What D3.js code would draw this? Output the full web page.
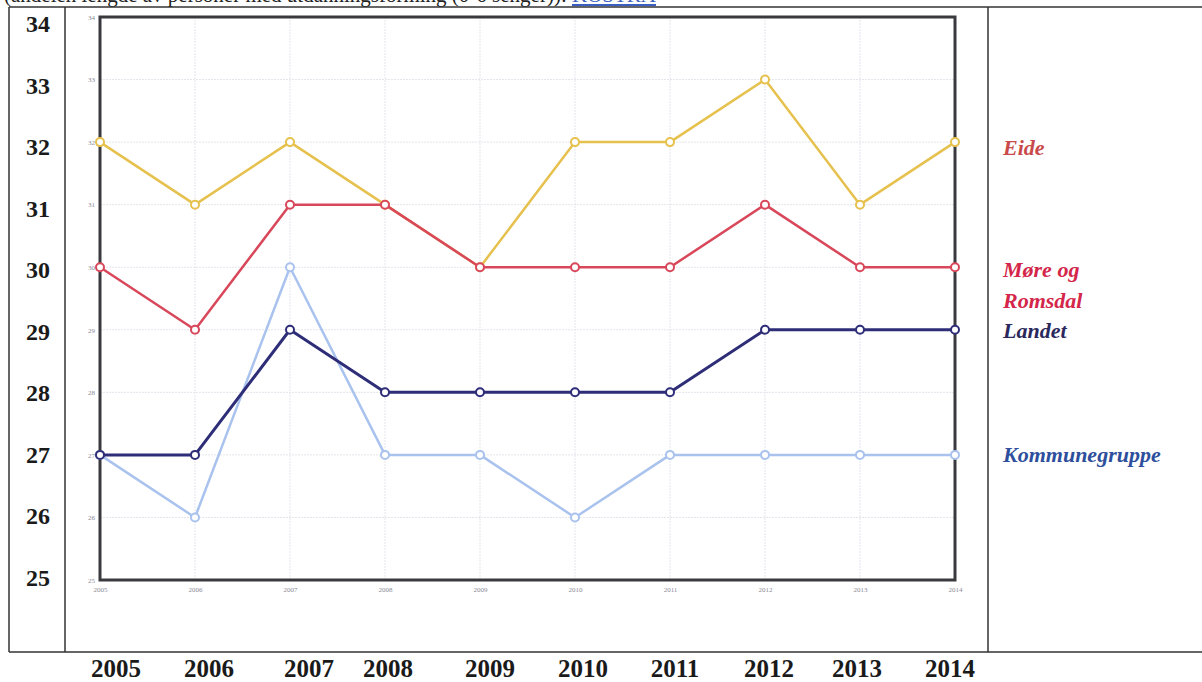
<!DOCTYPE html>
<html>
<head>
<meta charset="utf-8">
<script src="https://cdn.jsdelivr.net/npm/d3@7"></script>
<style>
  html, body { margin: 0; padding: 0; background: #fff; }
  svg { display: block; }
</style>
</head>
<body>
<svg id="chart" width="1202" height="682"></svg>
<script>
// data
var years = [2005, 2006, 2007, 2008, 2009, 2010, 2011, 2012, 2013, 2014];
var yTicks = [25, 26, 27, 28, 29, 30, 31, 32, 33, 34];
var eide = [32, 31, 32, 31, 30, 32, 32, 33, 31, 32];
var moreRomsdal = [30, 29, 31, 31, 30, 30, 30, 31, 30, 30];
var landet = [27, 27, 29, 28, 28, 28, 28, 29, 29, 29];
var kommunegruppe = [27, 26, 30, 27, 27, 26, 27, 27, 27, 27];
var seriesNames = ['Eide', 'Møre og Romsdal', 'Landet', 'Kommunegruppe'];

// the typed year row under the table is not aligned with the plot
var yearNudge = [16, 14, 19, 3, 10, 8, 5, 4, -3, -5];

var series = [
    {key: 'Kommunegruppe', values: kommunegruppe, color: '#a9c2ee', width: 2.5},
    {key: 'Landet', values: landet, color: '#2e2d78', width: 3},
    {key: 'Eide', values: eide, color: '#e6c14e', width: 2.5},
    {key: 'Møre og Romsdal', values: moreRomsdal, color: '#d8475a', width: 2.5}
];

var svg = d3.select('#chart');

var x = d3.scaleLinear().domain([2005, 2014]).range([100, 955]);
var y = d3.scaleLinear().domain([25, 34]).range([580, 17]);
// the typed value column on the left sits on its own spacing
var yTyped = d3.scaleLinear().domain([25, 34]).range([578, 24]);

//------------------------------------------------------------
// scanned header line, cut off at the top

var head = svg.append('text')
    .attr('x', 4).attr('y', 2)
    .style('font-family', '"Liberation Serif", "Times New Roman", serif')
    .style('font-size', '21px')
    .style('fill', '#222');
head.append('tspan').text('(andelen lengde av personer med utdanningsforming (0-6 senger)): ');
head.append('tspan').text('KOSTRA')
    .style('fill', '#3b5fc0')
    .style('text-decoration', 'underline');

//------------------------------------------------------------
// table frame

var frame = svg.append('g')
    .style('stroke', '#333').style('stroke-width', 1.5).style('fill', 'none');
frame.append('line').attr('x1', 9).attr('x2', 1202).attr('y1', 7).attr('y2', 7);
frame.append('line').attr('x1', 9).attr('x2', 1202).attr('y1', 652).attr('y2', 652);
frame.append('line').attr('x1', 9).attr('x2', 9).attr('y1', 7).attr('y2', 652);
frame.append('line').attr('x1', 65).attr('x2', 65).attr('y1', 7).attr('y2', 652);
frame.append('line').attr('x1', 988).attr('x2', 988).attr('y1', 7).attr('y2', 652);

// big typed labels
var serif = '"Liberation Serif", "Times New Roman", serif';

svg.append('g').selectAll('text')
    .data(yTicks)
    .enter().append('text')
    .attr('x', 38)
    .attr('y', function (d) { return yTyped(d) + 8; })
    .attr('text-anchor', 'middle')
    .style('font-family', serif)
    .style('font-weight', 'bold')
    .style('font-size', '24px')
    .style('fill', '#1a1a1a')
    .text(function (d) { return d; });

svg.append('g').selectAll('text')
    .data(years)
    .enter().append('text')
    .attr('x', function (d, i) { return x(d) + yearNudge[i]; })
    .attr('y', 677)
    .attr('text-anchor', 'middle')
    .style('font-family', serif)
    .style('font-weight', 'bold')
    .style('font-size', '25px')
    .style('fill', '#1a1a1a')
    .text(function (d) { return d; });

//------------------------------------------------------------
// inner chart: grid, small axes

var grid = svg.append('g').style('stroke', '#e4e5ec').style('stroke-width', 1)
    .style('stroke-dasharray', '2,1');
grid.selectAll('line.h').data(yTicks.slice(1, -1))
    .enter().append('line').attr('class', 'h')
    .attr('x1', x(2005)).attr('x2', x(2014))
    .attr('y1', function (d) { return y(d); })
    .attr('y2', function (d) { return y(d); });
grid.selectAll('line.v').data(years.slice(1, -1))
    .enter().append('line').attr('class', 'v')
    .attr('y1', y(34)).attr('y2', y(25))
    .attr('x1', function (d) { return x(d); })
    .attr('x2', function (d) { return x(d); });

var yAxis = svg.append('g')
    .attr('transform', 'translate(' + x(2005) + ',0)')
    .call(d3.axisLeft(y).tickValues(yTicks).tickSize(0).tickPadding(5));
var xAxis = svg.append('g')
    .attr('transform', 'translate(0,' + (y(25) + 2) + ')')
    .call(d3.axisBottom(x).tickValues(years).tickSize(0).tickPadding(5).tickFormat(d3.format('d')));
[yAxis, xAxis].forEach(function (a) {
    a.select('.domain').remove();
    a.selectAll('text')
        .style('font-family', serif)
        .style('font-size', '7px')
        .style('fill', '#8a8a95');
});

svg.append('rect')
    .attr('x', x(2005)).attr('y', y(34))
    .attr('width', x(2014) - x(2005)).attr('height', y(25) - y(34))
    .style('fill', 'none')
    .style('stroke', '#3a3a3e')
    .style('stroke-width', 3);

//------------------------------------------------------------
// series

var line = d3.line()
    .x(function (d, i) { return x(years[i]); })
    .y(function (d) { return y(d); });

var groups = svg.append('g').selectAll('g.series')
    .data(series)
    .enter().append('g').attr('class', 'series');

groups.append('path')
    .attr('d', function (d) { return line(d.values); })
    .style('fill', 'none')
    .style('stroke', function (d) { return d.color; })
    .style('stroke-width', function (d) { return d.width; })
    .style('stroke-linejoin', 'round');

groups.selectAll('circle')
    .data(function (d) { return d.values.map(function (v, i) { return {v: v, i: i, color: d.color}; }); })
    .enter().append('circle')
    .attr('cx', function (d) { return x(years[d.i]); })
    .attr('cy', function (d) { return y(d.v); })
    .attr('r', 4)
    .style('fill', '#fff')
    .style('stroke', function (d) { return d.color; })
    .style('stroke-width', 2);

//------------------------------------------------------------
// legend column on the right

var legendLines = [
    {text: seriesNames[0], y: 155, color: '#c94a4a'},
    {text: 'Møre og', y: 277, color: '#d3264a'},
    {text: 'Romsdal', y: 308, color: '#d3264a'},
    {text: seriesNames[2], y: 338, color: '#2a285c'},
    {text: seriesNames[3], y: 462, color: '#2d4f9c'}
];

svg.append('g').selectAll('text')
    .data(legendLines)
    .enter().append('text')
    .attr('x', 1003)
    .attr('y', function (d) { return d.y; })
    .style('font-family', serif)
    .style('font-weight', 'bold')
    .style('font-style', 'italic')
    .style('font-size', '22px')
    .style('fill', function (d) { return d.color; })
    .text(function (d) { return d.text; });
</script>
</body>
</html>
